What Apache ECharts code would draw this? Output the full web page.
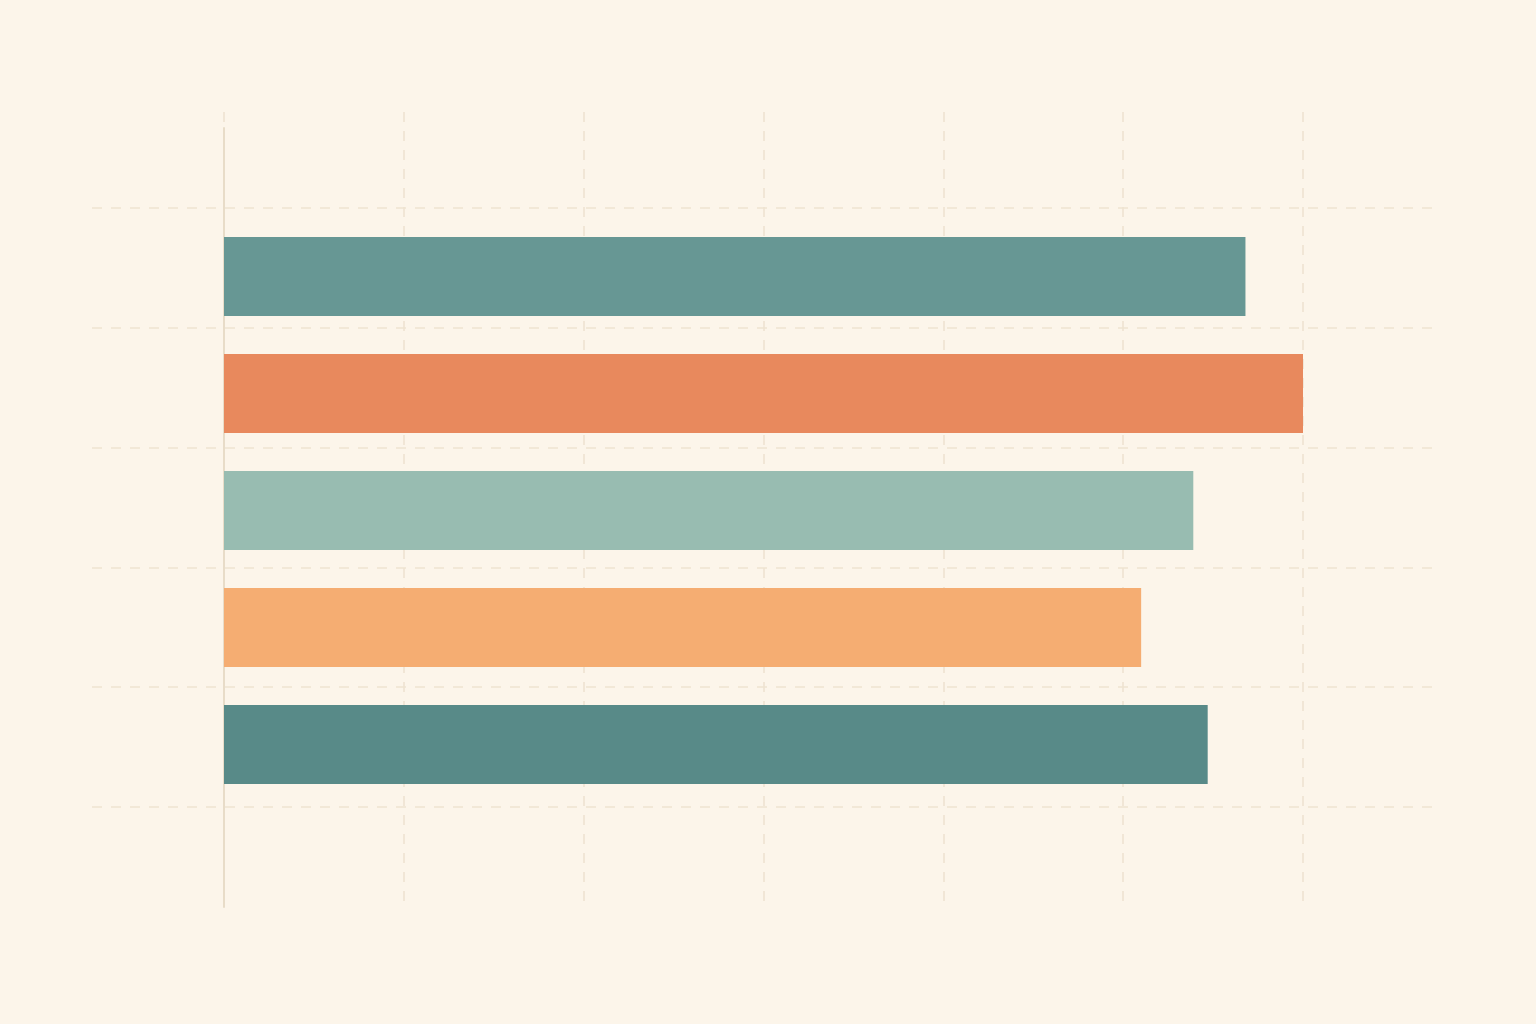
<!DOCTYPE html>
<html>
<head>
<meta charset="utf-8">
<script src="https://cdn.jsdelivr.net/npm/echarts@6/dist/echarts.min.js"></script>
<style>
html,body{margin:0;padding:0;background:#FCF5EA;}
#chart{width:1536px;height:1024px;}
</style>
</head>
<body>
<div id="chart"></div>
<script>
const categories = ['A', 'B', 'C', 'D', 'E'];
const values = [56.8, 60, 53.9, 51.0, 54.7];
const barColors = ['#679794', '#E8895D', '#98BCB1', '#F5AD72', '#588A88'];
const rowCount = [0, 5];

const gridLine = { show: true, lineStyle: { color: '#EEE3D1', width: 1.6, type: [10, 9] } };
const chart = echarts.init(document.getElementById('chart'));
chart.setOption({
  backgroundColor: '#FCF5EA',
  animation: false,
  grid: [
    { left: 224, top: 112, width: 1079, height: 795 },
    { left: 92, right: 100, top: 208, height: 599 },
    { left: 224, top: 218, width: 1079, height: 585 },
    { left: 224, top: 128, width: 1079, height: 779 }
  ],
  xAxis: [
    { gridIndex: 0, type: 'value', min: 0, max: 60, interval: 10,
      axisLine: { show: false }, axisTick: { show: false }, axisLabel: { show: false },
      splitLine: gridLine },
    { gridIndex: 1, type: 'value', min: 0, max: 1, show: false, splitLine: { show: false } },
    { gridIndex: 2, type: 'value', min: 0, max: 60, show: false, splitLine: { show: false } },
    { gridIndex: 3, type: 'value', min: 0, max: 60, show: false, splitLine: { show: false } }
  ],
  yAxis: [
    { gridIndex: 0, type: 'value', min: 0, max: 1, show: false, splitLine: { show: false } },
    { gridIndex: 1, type: 'value', min: rowCount[0], max: rowCount[1], interval: 1,
      axisLine: { show: false }, axisTick: { show: false }, axisLabel: { show: false },
      splitLine: gridLine },
    { gridIndex: 2, type: 'category', data: categories, inverse: true, show: false },
    { gridIndex: 3, type: 'value', min: 0, max: 1,
      axisLine: { show: true, lineStyle: { color: '#E8DCC8', width: 2 } },
      axisTick: { show: false }, axisLabel: { show: false }, splitLine: { show: false } }
  ],
  series: [{
    type: 'bar',
    xAxisIndex: 2,
    yAxisIndex: 2,
    barWidth: 79,
    z: 5,
    data: values.map((v, i) => ({ value: v, itemStyle: { color: barColors[i] } }))
  }]
});
</script>
</body>
</html>
